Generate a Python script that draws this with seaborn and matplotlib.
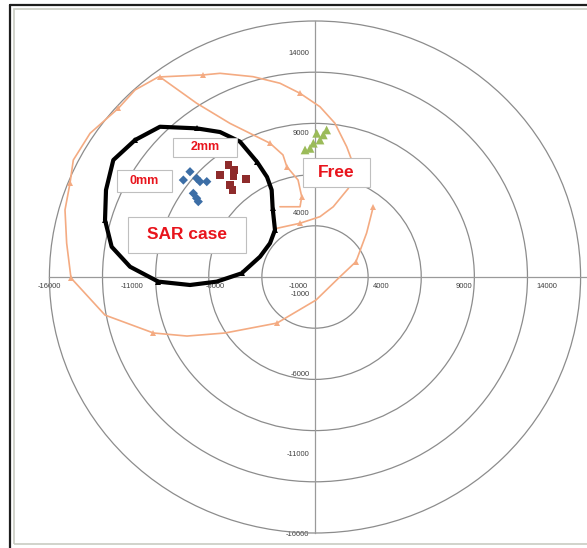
import pandas as pd
import matplotlib.pyplot as plt
import seaborn as sns
from matplotlib.patches import Circle, Rectangle
from matplotlib.lines import Line2D

# Grid rings and axis ticks
ring_radii = [3200, 6400, 9600, 12800, 16000]
tick_values = [-16000, -11000, -6000, -1000, 4000, 9000, 14000]

# SAR case loop (black, closed)
sar_x = [-10840, -9340, -7130, -5720, -4520, -3490, -2890, -2610, -2550, -2410, -2710,
         -3310, -4420, -5920, -7530, -9440, -11140, -12250, -12650, -12590, -12150, -10840]
sar_y = [8560, 9390, 9290, 9060, 8460, 7190, 6250, 5440, 4290, 2940, 2110,
         1270, 230, -290, -500, -290, 640, 1890, 3560, 5440, 7310, 8560]
sar_marks = [0, 2, 5, 8, 9, 12, 15, 18]

# Free path, outer loop (orange)
outer_x = [-2310, -900, 300, 1100, 2010, 2210, 2210, 1910, 1200, 300, -900, -2110, -3730,
           -5720, -6730, -9440, -10840, -11850, -13550, -14560, -14760, -15060, -14960,
           -14700, -12650, -9730, -7710, -5420, -2290, 60, 1510, 2470, 3110, 3510]
outer_y = [3040, 3360, 3770, 4390, 5540, 6690, 7310, 8140, 9610, 10640, 11480, 12110, 12520,
           12730, 12630, 12500, 11690, 10540, 8980, 7310, 5860, 4190, 2110,
           -60, -2380, -3500, -3690, -3500, -2880, -1440, 20, 960, 2750, 4390]
outer_marks = [1, 10, 14, 17, 20, 23, 25, 28, 31, 33]

# Free path, inner branch (orange)
inner_x = [-9340, -7130, -5120, -2710, -1930, -1700, -1020, -800, -900, -2110]
inner_y = [12500, 10860, 9600, 8360, 7630, 6900, 6060, 5020, 4390, 4390]
inner_marks = [0, 3, 5, 7]

# Measured points
mm0_x = [-7930, -7530, -7130, -6930, -6520, -7330, -7130, -7030]
mm0_y = [6060, 6580, 6170, 5960, 5960, 5230, 4920, 4710]
mm2_x = [-5720, -5220, -4880, -4920, -4160, -5120, -4960]
mm2_y = [6380, 7000, 6690, 6270, 6110, 5750, 5440]
free_x = [700, 500, 100, 300, -100, -300, -600]
free_y = [9190, 8880, 8980, 8560, 8360, 8040, 7940]

ORANGE = '#F4AB82'
GRID = '#8C8C8C'
RED = '#E8141C'

sns.set_style('white')
plt.rcParams['font.family'] = ['Liberation Sans', 'DejaVu Sans']

fig = plt.figure(figsize=(5.87, 5.48), dpi=100)
ax = fig.add_axes([0, 0, 1, 1])
ax.set_xlim(-18976, 16386)
ax.set_ylim(-16937, 17312)

for r in ring_radii:
    ax.add_patch(Circle((0, 0), r, fill=False, ec=GRID, lw=0.9, zorder=1))

# axes crossing at the origin
for side in ['top', 'right']:
    ax.spines[side].set_visible(False)
ax.spines['left'].set_position(('data', 0))
ax.spines['bottom'].set_position(('data', 0))
ax.spines['left'].set_bounds(-16000, 16000)
ax.spines['bottom'].set_bounds(-16000, 17000)
for side in ['left', 'bottom']:
    ax.spines[side].set_color('#9A9A9A')
    ax.spines[side].set_linewidth(0.9)
    ax.spines[side].set_zorder(1)
ax.set_xticks(tick_values)
ax.set_yticks(tick_values)
ax.set_xticklabels([str(v) for v in tick_values])
ax.set_yticklabels([str(v) for v in tick_values])
ax.tick_params(axis='both', length=2, width=0.6, color='#9A9A9A', labelsize=5.5,
               labelcolor='#404040', pad=2)
ax.set_xlabel('')
ax.set_ylabel('')

outer = pd.DataFrame({'x': outer_x, 'y': outer_y})
inner = pd.DataFrame({'x': inner_x, 'y': inner_y})
sar = pd.DataFrame({'x': sar_x, 'y': sar_y})

sns.lineplot(data=outer, x='x', y='y', sort=False, estimator=None, color=ORANGE, lw=1.2,
             marker='^', markersize=4, markeredgewidth=0, markevery=outer_marks, ax=ax, zorder=3)
sns.lineplot(data=inner, x='x', y='y', sort=False, estimator=None, color=ORANGE, lw=1.2,
             marker='^', markersize=4, markeredgewidth=0, markevery=inner_marks, ax=ax, zorder=3)
sns.lineplot(data=sar, x='x', y='y', sort=False, estimator=None, color='black', lw=3,
             marker='^', markersize=5, markeredgewidth=0, markevery=sar_marks, ax=ax, zorder=4)

sns.scatterplot(x=mm0_x, y=mm0_y, marker='D', s=22, color='#3C6EA6', edgecolor='none', ax=ax, zorder=5)
sns.scatterplot(x=mm2_x, y=mm2_y, marker='s', s=30, color='#8E2B2B', edgecolor='none', ax=ax, zorder=5)
sns.scatterplot(x=free_x, y=free_y, marker='^', s=40, color='#9BBB59', edgecolor='none', ax=ax, zorder=5)
ax.set_xlabel('')
ax.set_ylabel('')

# label boxes
labels = [
    ('2mm', -8540, 7520, 3820, 1150, 9),
    ('0mm', -11930, 5310, 3320, 1380, 9),
    ('SAR case', -11270, 1500, 7110, 2250, 12.5),
    ('Free', -720, 5630, 4030, 1810, 12.5),
]
for txt, x0, y0, w, h, fs in labels:
    ax.add_patch(Rectangle((x0, y0), w, h, fc='white', ec='#BFBFBF', lw=0.8, zorder=6))
    ax.text(x0 + w / 2, y0 + h / 2, txt, color=RED, fontsize=fs, fontweight='bold',
            ha='center', va='center', zorder=7)

# chart frame
fig.add_artist(Rectangle((14 / 587, 1 - 544 / 548), 1.2, 535 / 548, transform=fig.transFigure,
                         fill=False, ec='#C9CCC2', lw=1.2))
fig.add_artist(Line2D([10 / 587, 10 / 587], [0, 1 - 5 / 548], transform=fig.transFigure,
                      color='#1E1E1E', lw=1.6))
fig.add_artist(Line2D([10 / 587, 1], [1 - 5 / 548, 1 - 5 / 548], transform=fig.transFigure,
                      color='#1E1E1E', lw=1.6))

fig.savefig('out.png', dpi=100)
